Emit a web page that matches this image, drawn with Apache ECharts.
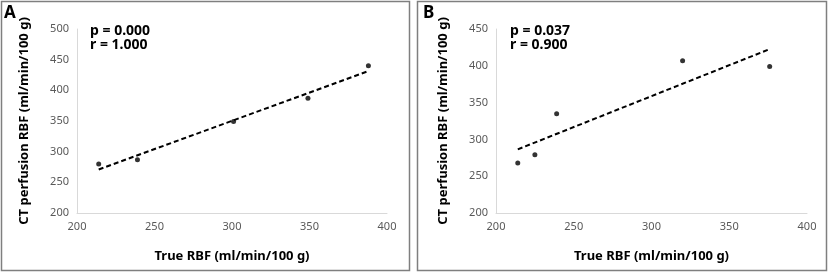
<!DOCTYPE html>
<html lang="en">
<head>
    <meta charset="UTF-8">
    <title>RBF scatter</title>
    <script type="text/javascript" src="https://cdn.jsdelivr.net/npm/echarts@6/dist/echarts.min.js"></script>
    <style>
        html, body { margin: 0; padding: 0; background: #fff; }
    </style>
</head>
<body>
    <div id="main" style="width: 829px; height: 273px;"></div>

    <script type="text/javascript">
        // panel A data
        var trueA = [214, 239, 301, 349, 388];
        var ctA = [280, 287, 349, 387, 440];
        // panel B data
        var trueB = [214, 225, 239, 320, 376];
        var ctB = [268, 279, 335, 407, 399];

        var statsA = ['p = 0.000', 'r = 1.000'];
        var statsB = ['p = 0.037', 'r = 0.900'];
        var panelLabels = ['A', 'B'];

        var xTitle = 'True RBF (ml/min/100 g)';
        var yTitle = 'CT perfusion RBF (ml/min/100 g)';

        // linear trend line (least squares), endpoints at min/max x
        function trend(xs, ys) {
            var n = xs.length, mx = 0, my = 0;
            for (var i = 0; i < n; i++) { mx += xs[i]; my += ys[i]; }
            mx /= n; my /= n;
            var sxy = 0, sxx = 0;
            for (var i = 0; i < n; i++) {
                sxy += (xs[i] - mx) * (ys[i] - my);
                sxx += (xs[i] - mx) * (xs[i] - mx);
            }
            var b = sxy / sxx, a = my - b * mx;
            var x0 = Math.min.apply(null, xs), x1 = Math.max.apply(null, xs);
            return [[x0, a + b * x0], [x1, a + b * x1]];
        }

        function pairs(xs, ys) {
            return xs.map(function(x, i) { return [x, ys[i]]; });
        }

        var font = '"Noto Sans", sans-serif';
        var tickLabel = { color: '#595959', fontSize: 11, fontFamily: font, margin: 8 };
        var axisLine = { show: true, lineStyle: { color: '#d9d9d9', width: 1 } };
        var nameStyle = { color: '#000', fontSize: 13, fontWeight: 'bold', fontFamily: font };

        function xAxis(idx) {
            return {
                gridIndex: idx, type: 'value', min: 200, max: 400, interval: 50,
                axisLine: axisLine, axisTick: { show: false }, splitLine: { show: false },
                axisLabel: tickLabel,
                name: xTitle, nameLocation: 'middle', nameGap: 37, nameTextStyle: nameStyle
            };
        }
        function yAxis(idx, max) {
            return {
                gridIndex: idx, type: 'value', min: 200, max: max, interval: 50,
                axisLine: axisLine, axisTick: { show: false }, splitLine: { show: false },
                axisLabel: tickLabel,
                name: yTitle, nameLocation: 'middle', nameGap: 46, nameTextStyle: nameStyle
            };
        }

        function scatter(idx, xs, ys) {
            return {
                type: 'scatter', xAxisIndex: idx, yAxisIndex: idx,
                data: pairs(xs, ys), symbolSize: 5,
                itemStyle: { color: '#000' }, z: 3
            };
        }
        function line(idx, xs, ys) {
            return {
                type: 'line', xAxisIndex: idx, yAxisIndex: idx,
                data: trend(xs, ys), symbol: 'none',
                lineStyle: { color: '#000', width: 2, type: [5, 3] }, z: 2
            };
        }

        function statText(left, lines) {
            return {
                type: 'text', left: left, top: 24,
                style: {
                    text: lines.join('\n'), fill: '#000', lineHeight: 14,
                    font: 'bold 14px ' + font
                }
            };
        }

        var myChart = echarts.init(document.getElementById('main'), null, { renderer: 'canvas' });

        myChart.setOption({
            animation: false,
            grid: [
                { left: 77, width: 310, top: 29, height: 184 },
                { left: 496, width: 311, top: 29, height: 184 }
            ],
            xAxis: [xAxis(0), xAxis(1)],
            yAxis: [yAxis(0, 500), yAxis(1, 450)],
            series: [
                line(0, trueA, ctA), scatter(0, trueA, ctA),
                line(1, trueB, ctB), scatter(1, trueB, ctB)
            ],
            graphic: [
                { type: 'rect', shape: { x: 1.5, y: 1.5, width: 408, height: 269 },
                  style: { fill: null, stroke: '#7f7f7f', lineWidth: 1.5 } },
                { type: 'rect', shape: { x: 417.5, y: 1.5, width: 409, height: 269 },
                  style: { fill: null, stroke: '#7f7f7f', lineWidth: 1.5 } },
                { type: 'text', left: 4, top: 5,
                  style: { text: panelLabels[0], fill: '#000', font: 'bold 17px ' + font } },
                { type: 'text', left: 423, top: 5,
                  style: { text: panelLabels[1], fill: '#000', font: 'bold 17px ' + font } },
                statText(90, statsA),
                statText(510, statsB)
            ]
        });
    </script>
</body>
</html>
